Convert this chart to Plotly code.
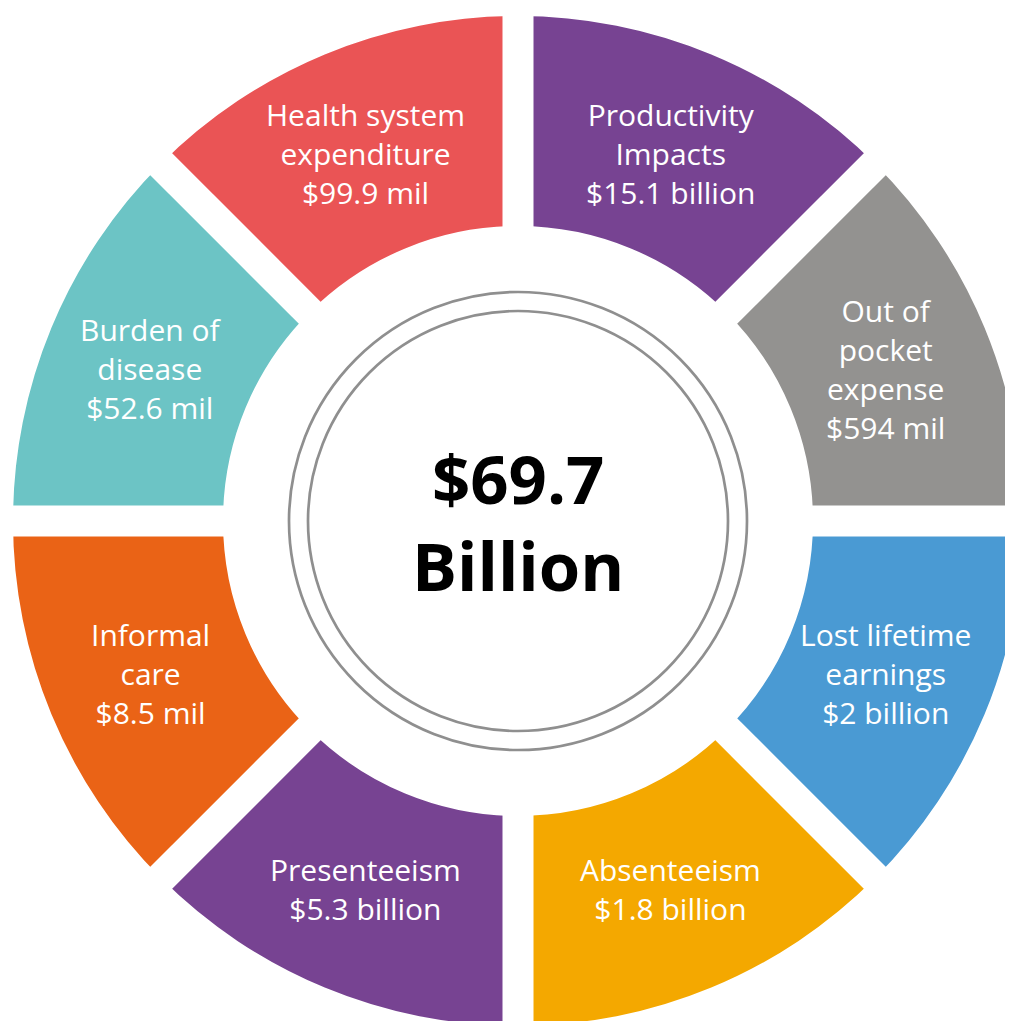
import math
import plotly.graph_objects as go

# slices run clockwise from 12 o'clock
categories = [
    "Productivity<br>Impacts",
    "Out of<br>pocket<br>expense",
    "Lost lifetime<br>earnings",
    "Absenteeism",
    "Presenteeism",
    "Informal<br>care",
    "Burden of<br>disease",
    "Health system<br>expenditure",
]
amounts = ["$15.1 billion", "$594 mil", "$2 billion", "$1.8 billion",
           "$5.3 billion", "$8.5 mil", "$52.6 mil", "$99.9 mil"]
weights = [1, 1, 1, 1, 1, 1, 1, 1]
colors = ["#774392", "#939290", "#4a9ad3", "#f4a800",
          "#774392", "#ea6316", "#6cc4c5", "#ea5455"]
total_text = "$69.7<br>Billion"

W, H = 1020, 1026           # figure size, polar circle radius = 510 px
R_OUT, R_IN = 505, 295      # ring edges (radial units == px)
GAP = 31
FONT = "Open Sans"

tot = sum(weights)
starts = [sum(weights[:i]) / tot * 360 for i in range(len(weights))]
widths = [w / tot * 360 for w in weights]
mids = [s + w / 2 for s, w in zip(starts, widths)]

fig = go.Figure()
fig.add_trace(go.Barpolar(
    theta=mids,
    width=widths,
    base=[R_IN] * len(weights),
    r=[R_OUT - R_IN] * len(weights),
    marker=dict(color=colors, line=dict(width=0)),
    hovertext=[c.replace("<br>", " ") + " " + a for c, a in zip(categories, amounts)],
    hoverinfo="text",
    showlegend=False,
))

# labels in the middle of each slice
r_lab = 398
for cat, amt, m in zip(categories, amounts, mids):
    ang = math.radians(m)
    fig.add_annotation(
        x=0.5 + r_lab * math.sin(ang) / W,
        y=0.5 + r_lab * math.cos(ang) / H,
        xref="paper", yref="paper",
        xanchor="center", yanchor="middle",
        text=f"{cat}<br>{amt}",
        showarrow=False,
        font=dict(family=FONT, size=30, color="white"),
        align="center",
    )

fig.add_annotation(
    x=0.5, y=0.5, xref="paper", yref="paper",
    xanchor="center", yanchor="middle",
    text=f"<b>{total_text}</b>",
    showarrow=False,
    font=dict(family=FONT, size=67, color="black"),
    align="center",
)

for rr in (229, 210):
    fig.add_shape(type="circle", xref="paper", yref="paper",
                  x0=0.5 - rr / W, x1=0.5 + rr / W,
                  y0=0.5 - rr / H, y1=0.5 + rr / H,
                  line=dict(color="#8f8f8f", width=2.7))

fig.update_layout(
    width=W, height=H,
    margin=dict(l=0, r=0, t=0, b=0),
    paper_bgcolor="white",
    polar=dict(
        domain=dict(x=[0, 1], y=[0, 1]),
        bgcolor="rgba(0,0,0,0)",
        radialaxis=dict(range=[0, 510], visible=False, showgrid=False),
        angularaxis=dict(
            rotation=90, direction="clockwise",
            tickvals=starts, showticklabels=False,
            ticks="inside", ticklen=230, tickwidth=GAP, tickcolor="white",
            showline=False, showgrid=False,
            layer="above traces",
        ),
    ),
    showlegend=False,
)

fig.write_html("out.html")
